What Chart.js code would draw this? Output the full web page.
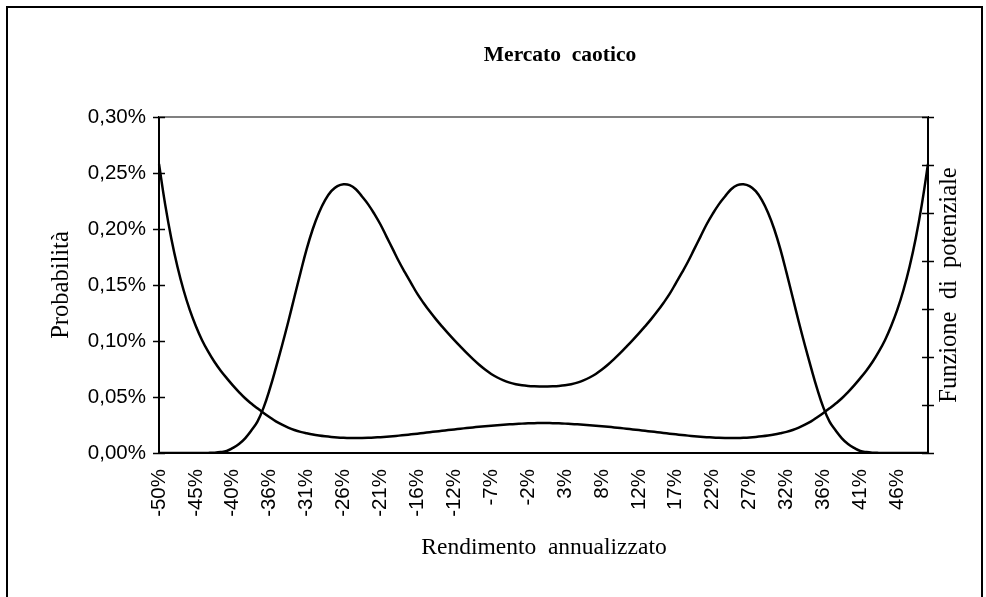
<!DOCTYPE html>
<html>
<head>
<meta charset="utf-8">
<script src="https://cdn.jsdelivr.net/npm/chart.js@4.4.1/dist/chart.umd.min.js"></script>
<style>
  html, body { margin: 0; padding: 0; background: #fff; }
  #wrap { width: 986px; height: 597px; position: relative; }
</style>
</head>
<body>
<div id="wrap"><canvas id="myChart"></canvas></div>
<script>
/////////////////// START DATA ////////////////////////////////////////////////////

// rendimento annualizzato (%) for every category
const rendimenti = [
  -50.0, -49.2, -48.4, -47.6, -46.8, -46.0, -45.2, -44.4, -43.6, -42.8, -42.0, -41.2, -40.4,
  -39.6, -38.8, -38.0, -37.2, -36.4, -35.6, -34.8, -34.0, -33.2, -32.4, -31.6, -30.8, -30.0,
  -29.2, -28.4, -27.6, -26.8, -26.0, -25.2, -24.4, -23.6, -22.8, -22.0, -21.2, -20.4, -19.6,
  -18.8, -18.0, -17.2, -16.4, -15.6, -14.8, -14.0, -13.2, -12.4, -11.6, -10.8, -10.0, -9.2,
  -8.4, -7.6, -6.8, -6.0, -5.2, -4.4, -3.6, -2.8, -2.0, -1.2, -0.4,
  0.4, 1.2, 2.0, 2.8, 3.6, 4.4, 5.2, 6.0, 6.8, 7.6, 8.4, 9.2, 10.0, 10.8, 11.6, 12.4, 13.2,
  14.0, 14.8, 15.6, 16.4, 17.2, 18.0, 18.8, 19.6, 20.4, 21.2, 22.0, 22.8, 23.6, 24.4, 25.2,
  26.0, 26.8, 27.6, 28.4, 29.2, 30.0, 30.8, 31.6, 32.4, 33.2, 34.0, 34.8, 35.6, 36.4, 37.2,
  38.0, 38.8, 39.6, 40.4, 41.2, 42.0, 42.8, 43.6, 44.4, 45.2, 46.0, 46.8, 47.6, 48.4, 49.2, 50.0
];

// probabilita' (%) - left axis
const probabilita = [
  0, 0, 0, 0, 0, 0, 0, 0, 0.0001, 0.0003, 0.0008, 0.0018, 0.0045,
  0.008, 0.0131, 0.020, 0.028, 0.0405, 0.057, 0.076, 0.096, 0.117, 0.139, 0.161, 0.182, 0.200,
  0.2145, 0.2258, 0.2338, 0.2383, 0.2400, 0.2392, 0.2355, 0.229, 0.222, 0.2135, 0.204, 0.193, 0.182,
  0.171, 0.161, 0.1515, 0.142, 0.134, 0.1265, 0.1195, 0.113, 0.1068, 0.1008, 0.095, 0.0893, 0.0840,
  0.0790, 0.0745, 0.0706, 0.0674, 0.0648, 0.0628, 0.0614, 0.0604, 0.0598, 0.0595, 0.0594,
  0.0594, 0.0595, 0.0598, 0.0604, 0.0614, 0.0628, 0.0648, 0.0674, 0.0706, 0.0745, 0.0790, 0.0840,
  0.0893, 0.095, 0.1008, 0.1068, 0.113, 0.1195, 0.1265, 0.134, 0.142, 0.1515, 0.161, 0.171, 0.182,
  0.193, 0.204, 0.2135, 0.222, 0.229, 0.2355, 0.2392, 0.2400, 0.2383, 0.2338, 0.2258, 0.2145, 0.200,
  0.182, 0.161, 0.139, 0.117, 0.096, 0.076, 0.057, 0.0405, 0.028, 0.020, 0.0131, 0.008, 0.0045,
  0.0018, 0.0008, 0.0003, 0.0001, 0, 0, 0, 0, 0, 0, 0, 0
];

// funzione di potenziale - right axis (no labels on the original)
const potenziale = [
  6.02, 5.18, 4.47, 3.88, 3.39, 2.98, 2.64, 2.35, 2.11, 1.90, 1.72, 1.56, 1.41,
  1.27, 1.14, 1.03, 0.93, 0.835, 0.745, 0.66, 0.59, 0.53, 0.48, 0.44, 0.41, 0.384,
  0.364, 0.348, 0.335, 0.325, 0.318, 0.313, 0.311, 0.312, 0.316, 0.322, 0.33, 0.339, 0.35,
  0.362, 0.375, 0.389, 0.403, 0.418, 0.433, 0.448, 0.463, 0.478, 0.492, 0.506, 0.52, 0.533,
  0.546, 0.558, 0.569, 0.579, 0.588, 0.597, 0.605, 0.612, 0.618, 0.622, 0.624,
  0.624, 0.622, 0.618, 0.612, 0.605, 0.597, 0.588, 0.579, 0.569, 0.558, 0.546, 0.533,
  0.52, 0.506, 0.492, 0.478, 0.463, 0.448, 0.433, 0.418, 0.403, 0.389, 0.375, 0.362,
  0.35, 0.339, 0.33, 0.322, 0.316, 0.312, 0.311, 0.313, 0.318, 0.325, 0.335, 0.348, 0.364,
  0.384, 0.41, 0.44, 0.48, 0.53, 0.59, 0.66, 0.745, 0.835, 0.93, 1.03, 1.14, 1.27,
  1.41, 1.56, 1.72, 1.90, 2.11, 2.35, 2.64, 2.98, 3.39, 3.88, 4.47, 5.18, 6.02
];

// labels shown under the x axis (one every 6 categories)
const xTickLabels = [
  "-50%", "-45%", "-40%", "-36%", "-31%", "-26%", "-21%", "-16%", "-12%", "-7%", "-2%",
  "3%", "8%", "12%", "17%", "22%", "27%", "32%", "36%", "41%", "46%"
];

const titolo = "Mercato  caotico";
const titoloX = "Rendimento  annualizzato";
const titoloY = "Probabilità";
const titoloY2 = "Funzione  di  potenziale";

/////////////////// END DATA //////////////////////////////////////////////////////

/////////////////// START DECORATION PLUGIN ///////////////////////////////////////
const decorPlugin = {
  id: "decor",
  beforeDraw(chart) {
    const ctx = chart.ctx;
    ctx.save();
    ctx.fillStyle = "#fff";
    ctx.fillRect(0, 0, chart.width, chart.height);
    ctx.restore();
  },
  afterDraw(chart) {
    const ctx = chart.ctx;
    const a = chart.chartArea;
    ctx.save();

    // outer frame
    ctx.strokeStyle = "#000";
    ctx.lineWidth = 2;
    ctx.strokeRect(7, 7, 975, 700);

    // grey top border of the plot area
    ctx.strokeStyle = "#808080";
    ctx.beginPath();
    ctx.moveTo(a.left, a.top);
    ctx.lineTo(a.right, a.top);
    ctx.stroke();

    // tick marks crossing both value axes
    ctx.strokeStyle = "#000";
    ctx.lineWidth = 1.5;
    const y = chart.scales.y;
    y.ticks.forEach((t) => {
      const py = Math.round(y.getPixelForValue(t.value)) + 0.5;
      ctx.beginPath();
      ctx.moveTo(a.left - 6, py);
      ctx.lineTo(a.left + 6, py);
      ctx.stroke();
    });
    const y2 = chart.scales.y2;
    y2.ticks.forEach((t) => {
      const py = Math.round(y2.getPixelForValue(t.value)) + 0.5;
      ctx.beginPath();
      ctx.moveTo(a.right - 6, py);
      ctx.lineTo(a.right + 6, py);
      ctx.stroke();
    });

    // titles
    ctx.fillStyle = "#000";
    ctx.textAlign = "center";
    ctx.textBaseline = "middle";
    ctx.font = "bold 21.5px 'Liberation Serif'";
    ctx.fillText(titolo, 560, 55);
    ctx.font = "23.5px 'Liberation Serif'";
    ctx.fillText(titoloX, 544, 548);

    ctx.font = "24.5px 'Liberation Serif'";
    ctx.save();
    ctx.translate(62, 285);
    ctx.rotate(-Math.PI / 2);
    ctx.fillText(titoloY, 0, 0);
    ctx.restore();

    ctx.save();
    ctx.translate(950, 285);
    ctx.rotate(-Math.PI / 2);
    ctx.fillText(titoloY2, 0, 0);
    ctx.restore();

    ctx.restore();
  }
};
/////////////////// END DECORATION PLUGIN /////////////////////////////////////////

/////////////////// START CHART ///////////////////////////////////////////////////
function drawChart() {
  const data = {
    labels: rendimenti,
    datasets: [
      {
        label: "Probabilità",
        data: probabilita,
        yAxisID: "y",
        borderColor: "#000",
        borderWidth: 2.5,
        pointRadius: 0,
        tension: 0.4,
        fill: false
      },
      {
        label: "Funzione di potenziale",
        data: potenziale,
        yAxisID: "y2",
        borderColor: "#000",
        borderWidth: 2.5,
        pointRadius: 0,
        tension: 0.4,
        fill: false
      }
    ]
  };

  const config = {
    type: "line",
    data: data,
    plugins: [decorPlugin],
    options: {
      responsive: true,
      maintainAspectRatio: false,
      animation: false,
      layout: { padding: { top: 117, left: 0, right: 0, bottom: 0 } },
      plugins: {
        legend: { display: false },
        title: { display: false },
        tooltip: { enabled: false }
      },
      scales: {
        x: {
          type: "category",
          offset: false,
          grid: { display: false, drawTicks: false },
          border: { display: true, color: "#000", width: 2 },
          ticks: {
            autoSkip: false,
            minRotation: 90,
            maxRotation: 90,
            padding: 16,
            color: "#000",
            font: { family: "'Liberation Sans'", size: 20.5 },
            callback: (val, idx) => (idx % 6 === 0 ? xTickLabels[idx / 6] : "")
          },
          afterFit: (s) => { s.height = 144; }
        },
        y: {
          position: "left",
          min: 0,
          max: 0.3,
          grid: { display: false, drawTicks: false },
          border: { display: true, color: "#000", width: 2 },
          ticks: {
            stepSize: 0.05,
            padding: 13,
            color: "#000",
            font: { family: "'Liberation Sans'", size: 20.5 },
            callback: (v) => v.toFixed(2).replace(".", ",") + "%"
          },
          afterFit: (s) => { s.width = 159; }
        },
        y2: {
          position: "right",
          min: 0,
          max: 7,
          grid: { display: false, drawTicks: false },
          border: { display: true, color: "#000", width: 2 },
          ticks: { stepSize: 1, display: false },
          afterFit: (s) => { s.width = 58; }
        }
      }
    }
  };

  new Chart(document.getElementById("myChart"), config);
}

drawChart();
/////////////////// END CHART /////////////////////////////////////////////////////
</script>
</body>
</html>
